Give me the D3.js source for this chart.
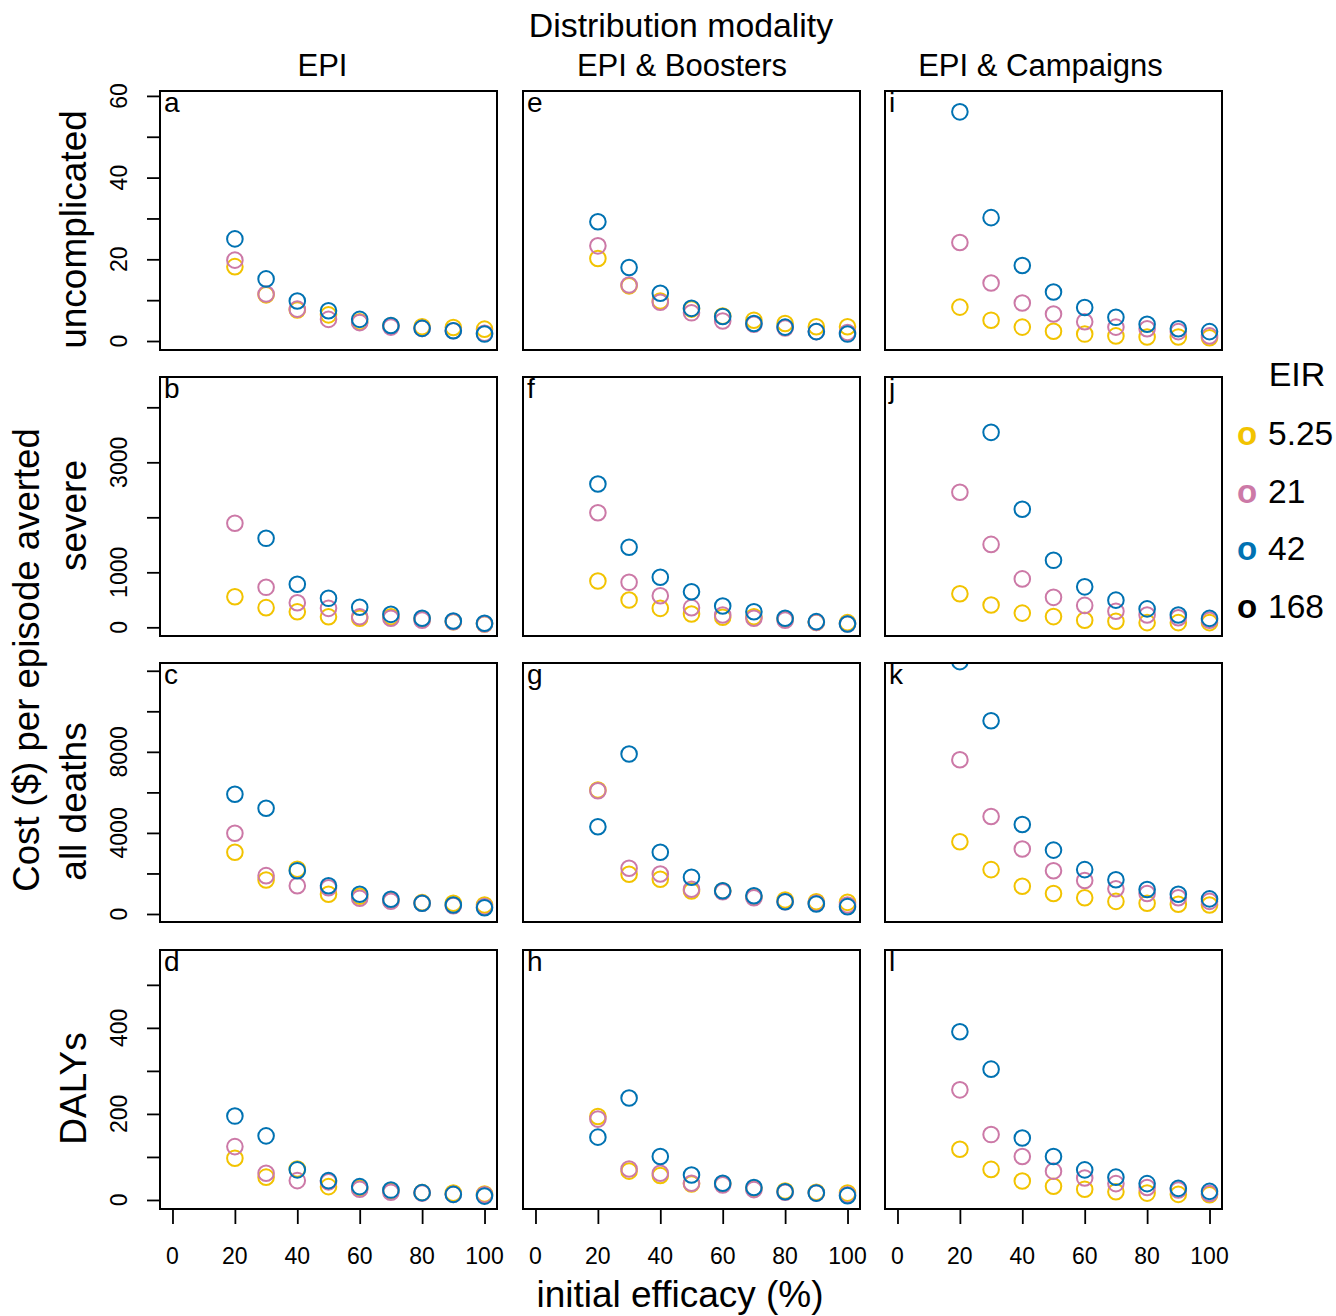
<!DOCTYPE html>
<html>
<head>
<meta charset="utf-8">
<script src="https://cdn.jsdelivr.net/npm/d3@7"></script>
<style>
  body { margin: 0; background: #fff; }
  text { font-family: "Liberation Sans", Arial, Helvetica, sans-serif; }
</style>
</head>
<body>
<div id="chart"></div>
<script>
// initial efficacy (%)
const efficacy = [20, 30, 40, 50, 60, 70, 80, 90, 100];

const modalities = ['EPI', 'EPI & Boosters', 'EPI & Campaigns'];
const outcomes = ['uncomplicated', 'severe', 'all deaths', 'DALYs'];
const panelLetters = [['a', 'e', 'i'], ['b', 'f', 'j'], ['c', 'g', 'k'], ['d', 'h', 'l']];

const eirLabels = ['5.25', '21', '42', '168'];
const eirColors = ['#F2C300', '#CC79A7', '#0072B2', '#000000'];

// y ticks per row
const yTicks = [
  [0, 10, 20, 30, 40, 50, 60],
  [0, 1000, 2000, 3000, 4000],
  [0, 2000, 4000, 6000, 8000, 10000, 12000],
  [0, 100, 200, 300, 400, 500]
];
const yTickLabels = [
  [0, 20, 40, 60],
  [0, 1000, 3000],
  [0, 4000, 8000],
  [0, 200, 400]
];
const yLimits = [[-2.2, 61.2], [-158, 4551], [-395, 12383], [-21, 581]];
const xTicks = [0, 20, 40, 60, 80, 100];

// cost per episode averted: [row][col] -> series per EIR (5.25, 21, 42)
// EIR 168 has no points in the figure
const uncomplicated = [
  [[18.2, 11.3, 7.6, 6.4, 4.7, 3.7, 3.5, 3.3, 2.9],
   [19.8, 11.5, 7.8, 5.3, 4.5, 3.4, 3.1, 2.5, 1.9],
   [25.0, 15.2, 9.8, 7.4, 5.3, 3.8, 3.1, 2.5, 1.7]],
  [[20.2, 13.5, 9.8, 7.8, 6.1, 5.1, 4.3, 3.5, 3.5],
   [23.3, 13.7, 9.5, 6.9, 4.9, 4.1, 3.2, 2.3, 2.1],
   [29.2, 18.0, 11.7, 8.0, 6.0, 4.3, 3.4, 2.3, 1.7]],
  [[8.3, 5.1, 3.4, 2.4, 1.7, 1.25, 1.0, 1.0, 0.8],
   [24.1, 14.2, 9.3, 6.6, 4.7, 3.4, 3.0, 2.3, 1.25],
   [56.1, 30.2, 18.5, 12.0, 8.2, 5.8, 4.1, 3.0, 2.3]]
];
const severe = [
  [[556, 357, 284, 193, 164, 193, 145, 100, 60],
   [1891, 727, 447, 345, 193, 164, 130, 100, 60],
   [null, 1618, 782, 527, 364, 236, 164, 115, 73]],
  [[842, 496, 345, 242, 182, 193, 145, 90, 85],
   [2084, 818, 575, 357, 224, 164, 130, 90, 60],
   [2605, 1455, 909, 647, 387, 284, 164, 103, 60]],
  [[611, 405, 258, 195, 129, 111, 85, 85, 85],
   [2456, 1507, 880, 545, 398, 291, 225, 175, 129],
   [null, 3545, 2147, 1218, 736, 494, 335, 225, 162]]
];
const allDeaths = [
  [[3044, 1677, 2205, 972, 872, 660, 560, 528, 444],
   [3981, 1891, 1396, 1297, 774, 626, 528, 411, 362],
   [5905, 5215, 2137, 1396, 972, 725, 528, 444, 311]],
  [[6116, 1958, 1712, 1136, 1136, 855, 690, 607, 575],
   [6083, 2255, 1973, 1218, 1100, 804, 607, 528, 444],
   [4307, 7893, 3044, 1810, 1150, 903, 607, 493, 362]],
  [[3562, 2190, 1367, 1011, 799, 622, 533, 479, 444],
   [7607, 4810, 3207, 2136, 1653, 1243, 1011, 799, 622],
   [12450, 9531, 4415, 3152, 2190, 1687, 1209, 977, 745]]
];
const dalys = [
  [[97, 53, 72, 31, 27, 21, 17, 16, 14],
   [124, 62, 45, 42, 25, 18, 16, 13, 12],
   [195, 149, 70, 45, 31, 23, 17, 13, 9]],
  [[194, 67, 57, 37, 37, 27, 21, 18, 16],
   [188, 72, 62, 39, 35, 24, 18, 16, 12],
   [146, 237, 101, 58, 39, 29, 19, 16, 10]],
  [[118, 71, 44, 32, 25, 19, 16, 13, 12],
   [256, 152, 101, 67, 51, 38, 29, 23, 15],
   [391, 304, 144, 101, 70, 53, 38, 27, 20]]
];
const rowData = [uncomplicated, severe, allDeaths, dalys];

const width = 1336, height = 1316;
const colLeft = [160, 523, 885];
const rowTop = [91, 377, 663, 950];
const pw = 337, ph = 259;

const svg = d3.select('#chart').append('svg')
  .attr('width', width)
  .attr('height', height);

// clip paths per panel
const defs = svg.append('defs');

rowTop.forEach((top, r) => {
  colLeft.forEach((left, c) => {
    const x = d3.scaleLinear().domain([-4, 104]).range([left, left + pw]);
    const y = d3.scaleLinear().domain(yLimits[r]).range([top + ph, top]);
    const id = `clip-${r}-${c}`;
    defs.append('clipPath').attr('id', id)
      .append('rect').attr('x', left).attr('y', top).attr('width', pw).attr('height', ph);

    const g = svg.append('g').attr('clip-path', `url(#${id})`);
    // draw series 5.25, 21, 42
    rowData[r][c].forEach((series, s) => {
      g.selectAll(null)
        .data(series.map((v, i) => ({ x: efficacy[i], v })).filter(d => d.v !== null))
        .enter()
        .append('circle')
        .attr('cx', d => x(d.x))
        .attr('cy', d => y(d.v))
        .attr('r', 7.8)
        .attr('fill', 'none')
        .attr('stroke', eirColors[s])
        .attr('stroke-width', 2);
    });

    // panel box
    svg.append('rect')
      .attr('x', left).attr('y', top)
      .attr('width', pw).attr('height', ph)
      .attr('fill', 'none')
      .attr('stroke', '#000')
      .attr('stroke-width', 2);

    svg.append('text')
      .attr('x', left + 4)
      .attr('y', top + 21)
      .attr('font-size', 28)
      .text(panelLetters[r][c]);

    if (c === 0) {
      const yAxis = svg.append('g')
        .attr('transform', `translate(${left},0)`)
        .call(d3.axisLeft(y).tickValues(yTicks[r]).tickSize(13).tickFormat(''));
      yAxis.select('.domain').remove();
      yAxis.selectAll('.tick line').attr('stroke-width', 1.8);
      yTickLabels[r].forEach(v => {
        svg.append('text')
          .attr('transform', `translate(127,${y(v)}) rotate(-90)`)
          .attr('text-anchor', 'middle')
          .attr('font-size', 23)
          .text(v);
      });
      svg.append('text')
        .attr('transform', `translate(86,${top + ph / 2 + 9}) rotate(-90)`)
        .attr('text-anchor', 'middle')
        .attr('font-size', 37)
        .text(outcomes[r]);
    }

    if (r === 3) {
      const xAxis = svg.append('g')
        .attr('transform', `translate(0,${top + ph})`)
        .call(d3.axisBottom(x).tickValues(xTicks).tickSize(15).tickFormat(''));
      xAxis.select('.domain').remove();
      xAxis.selectAll('.tick line').attr('stroke-width', 1.8);
      xTicks.forEach(v => {
        svg.append('text')
          .attr('x', x(v))
          .attr('y', 1264)
          .attr('text-anchor', 'middle')
          .attr('font-size', 23)
          .text(v);
      });
    }

    if (r === 0) {
      svg.append('text')
        .attr('x', left + pw / 2 - 6 - 3.5 * c)
        .attr('y', 76)
        .attr('text-anchor', 'middle')
        .attr('font-size', 31)
        .text(modalities[c]);
    }
  });
});

svg.append('text')
  .attr('x', 681).attr('y', 37)
  .attr('text-anchor', 'middle')
  .attr('font-size', 33.8)
  .text('Distribution modality');

svg.append('text')
  .attr('transform', 'translate(39,660) rotate(-90)')
  .attr('text-anchor', 'middle')
  .attr('font-size', 36.6)
  .text('Cost ($) per episode averted');

svg.append('text')
  .attr('x', 680).attr('y', 1307)
  .attr('text-anchor', 'middle')
  .attr('font-size', 37)
  .text('initial efficacy (%)');

// legend
const legend = svg.append('g');
legend.append('text')
  .attr('x', 1297).attr('y', 386)
  .attr('text-anchor', 'middle')
  .attr('font-size', 34)
  .text('EIR');
eirLabels.forEach((lab, i) => {
  const yy = 445 + i * 57.5;
  legend.append('text')
    .attr('x', 1237).attr('y', yy)
    .attr('font-size', 33)
    .attr('font-weight', 'bold')
    .attr('fill', eirColors[i])
    .text('o');
  legend.append('text')
    .attr('x', 1268).attr('y', yy)
    .attr('font-size', 33.5)
    .text(lab);
});
</script>
</body>
</html>
